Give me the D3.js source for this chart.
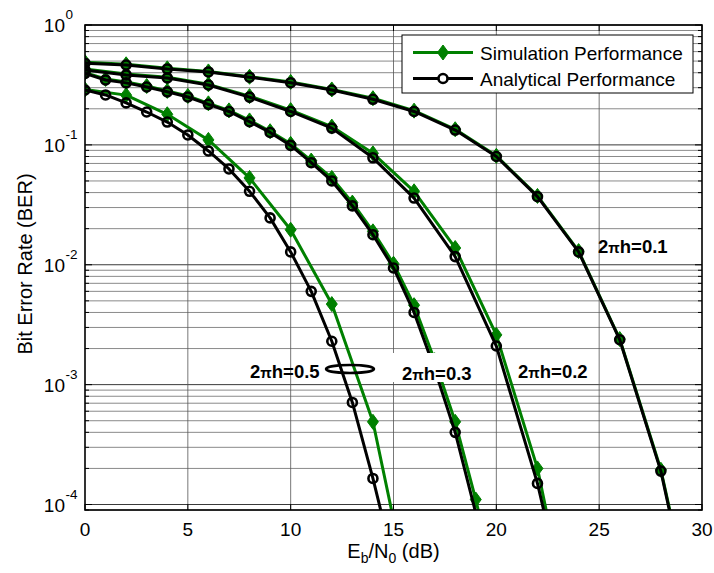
<!DOCTYPE html>
<html>
<head>
<meta charset="utf-8">
<script src="https://cdn.jsdelivr.net/npm/d3@7"></script>
<style>
  html, body { margin: 0; padding: 0; background: #fff; }
  svg { display: block; font-family: "Liberation Sans", Arial, sans-serif; }
</style>
</head>
<body>
<svg id="chart" width="714" height="573"></svg>
<script>
// Eb/N0 sample points (dB)
const ebn0Step1_0to15 = [0,1,2,3,4,5,6,7,8,9,10,11,12,13,14,15];
const ebn0Step1_0to19 = [0,1,2,3,4,5,6,7,8,9,10,11,12,13,14,15,16,17,18,19];
const ebn0Step1_0to20 = [0,1,2,3,4,5,6,7,8,9,10,11,12,13,14,15,16,17,18,19,20];
const ebn0Step2_0to16 = [0,2,4,6,8,10,12,14,16];
const ebn0Step2_0to24 = [0,2,4,6,8,10,12,14,16,18,20,22,24];
const ebn0Step2_0to30 = [0,2,4,6,8,10,12,14,16,18,20,22,24,26,28,30];

// BER, 2*pi*h = 0.1
const berAnalytical01 = [0.48, 0.464, 0.43, 0.406, 0.367, 0.33, 0.287, 0.24, 0.19, 0.133, 0.080, 0.037, 0.0128, 0.00237, 0.00019, 0.000005];
const berSimulation01 = [0.49, 0.47, 0.435, 0.41, 0.37, 0.335, 0.29, 0.245, 0.193, 0.135, 0.081, 0.0375, 0.013, 0.0024, 0.000195, 0.0000055];
// BER, 2*pi*h = 0.2
const berAnalytical02 = [0.422, 0.383, 0.362, 0.316, 0.25, 0.19, 0.138, 0.078, 0.036, 0.0117, 0.0021, 0.00015, 0.000005];
const berSimulation02 = [0.43, 0.39, 0.367, 0.32, 0.255, 0.195, 0.142, 0.085, 0.041, 0.0138, 0.0026, 0.0002, 0.0000045];
// BER, 2*pi*h = 0.3
const berAnalytical03 = [0.395, 0.348, 0.329, 0.304, 0.277, 0.251, 0.218, 0.19, 0.156, 0.127, 0.099, 0.071, 0.050, 0.031, 0.0178, 0.0094, 0.004, 0.00135, 0.0004, 0.000085];
const berSimulation03 = [0.40, 0.355, 0.335, 0.31, 0.282, 0.256, 0.222, 0.194, 0.16, 0.13, 0.102, 0.074, 0.053, 0.033, 0.019, 0.0102, 0.0046, 0.0016, 0.00049, 0.00011, 0.00002];
// BER, 2*pi*h = 0.5
const berAnalytical05 = [0.287, 0.261, 0.224, 0.188, 0.155, 0.121, 0.089, 0.063, 0.041, 0.0246, 0.0128, 0.006, 0.0023, 0.00071, 0.000165, 0.000033];
const berSimulation05 = [0.29, 0.26, 0.18, 0.11, 0.053, 0.0196, 0.0047, 0.00049, 0.0000115];

const xTicks = [0, 5, 10, 15, 20, 25, 30];
const yTickExponents = [0, -1, -2, -3, -4];
const legendLabels = ["Simulation Performance", "Analytical Performance"];
const curveLabels = ["2πh=0.1", "2πh=0.2", "2πh=0.3", "2πh=0.5"];

(function draw() {
  const GREEN = "#008000";
  const svg = d3.select("#chart");
  const pL = 85, pR = 702, pT = 25, pB = 510;
  const yMin = 0.9e-4;

  const x = d3.scaleLinear().domain([0, 30]).range([pL, pR]);
  const y = d3.scaleLog().domain([yMin, 1]).range([pB, pT]);

  // grid
  const minorVals = [];
  for (let e = -5; e < 0; e++) for (let m = 2; m <= 9; m++) {
    const v = m * Math.pow(10, e);
    if (v >= yMin && v < 1) minorVals.push(v);
  }
  const majorVals = yTickExponents.map(e => Math.pow(10, e));

  const grid = svg.append("g");
  grid.selectAll(null).data(minorVals).join("line")
    .attr("x1", pL).attr("x2", pR)
    .attr("y1", d => y(d)).attr("y2", d => y(d))
    .attr("stroke", "#8a8a8a").attr("stroke-width", 1);
  grid.selectAll(null).data(majorVals).join("line")
    .attr("x1", pL).attr("x2", pR)
    .attr("y1", d => y(d)).attr("y2", d => y(d))
    .attr("stroke", "#3a3a3a").attr("stroke-width", 1);
  grid.selectAll(null).data(xTicks.slice(1, -1)).join("line")
    .attr("x1", d => x(d)).attr("x2", d => x(d))
    .attr("y1", pT).attr("y2", pB)
    .attr("stroke", "#555").attr("stroke-width", 0.8);

  // curves
  svg.append("clipPath").attr("id", "plotClip")
    .append("rect").attr("x", pL).attr("y", pT).attr("width", pR - pL).attr("height", pB - pT);
  const plot = svg.append("g").attr("clip-path", "url(#plotClip)");

  const line = d3.line().x(d => x(d[0])).y(d => y(d[1]));
  const zip = (xs, ys) => ys.map((v, i) => [xs[i], v]);
  const inside = d => d[0] >= 0 && d[0] <= 30 && d[1] >= yMin && d[1] <= 1;

  const simSeries = [
    zip(ebn0Step2_0to30, berSimulation01),
    zip(ebn0Step2_0to24, berSimulation02),
    zip(ebn0Step1_0to20, berSimulation03),
    zip(ebn0Step2_0to16, berSimulation05)
  ];
  const anaSeries = [
    zip(ebn0Step2_0to30, berAnalytical01),
    zip(ebn0Step2_0to24, berAnalytical02),
    zip(ebn0Step1_0to19, berAnalytical03),
    zip(ebn0Step1_0to15, berAnalytical05)
  ];

  const diamond = (cx, cy) => `M${cx},${cy - 7.5}L${cx + 5.5},${cy}L${cx},${cy + 7.5}L${cx - 5.5},${cy}Z`;

  simSeries.forEach(s => {
    plot.append("path").attr("d", line(s)).attr("fill", "none")
      .attr("stroke", GREEN).attr("stroke-width", 3).attr("stroke-linejoin", "round");
  });
  simSeries.forEach(s => {
    plot.selectAll(null).data(s.filter(inside)).join("path")
      .attr("d", d => diamond(x(d[0]), y(d[1])))
      .attr("fill", GREEN).attr("stroke", GREEN).attr("stroke-width", 1);
  });
  anaSeries.forEach(s => {
    plot.append("path").attr("d", line(s)).attr("fill", "none")
      .attr("stroke", "#000").attr("stroke-width", 3).attr("stroke-linejoin", "round");
  });
  anaSeries.forEach(s => {
    plot.selectAll(null).data(s.filter(inside)).join("circle")
      .attr("cx", d => x(d[0])).attr("cy", d => y(d[1])).attr("r", 4.5)
      .attr("fill", "none").attr("stroke", "#000").attr("stroke-width", 2.6);
  });

  // curve annotations
  function curveLabel(txt, px, py, box) {
    const g = svg.append("g");
    if (box) g.append("rect").attr("x", box[0]).attr("y", box[1]).attr("width", box[2]).attr("height", box[3]).attr("fill", "#fff");
    const t = g.append("text").attr("x", px).attr("y", py)
      .attr("font-size", 18.5).attr("font-weight", "bold").attr("fill", "#000");
    const parts = txt.split("π");
    t.append("tspan").text(parts[0]);
    t.append("tspan").attr("font-size", 15).text("π");
    t.append("tspan").text(parts[1]);
  }
  curveLabel(curveLabels[0], 598, 253);
  curveLabel(curveLabels[1], 518, 378);
  curveLabel(curveLabels[2], 402, 380, [393, 353, 80, 29]);
  curveLabel(curveLabels[3], 250, 378);
  svg.append("ellipse").attr("cx", 350).attr("cy", 369).attr("rx", 24).attr("ry", 4)
    .attr("fill", "none").attr("stroke", "#000").attr("stroke-width", 2.5);

  // axes box and ticks
  const axes = svg.append("g");
  axes.append("rect").attr("x", pL).attr("y", pT).attr("width", pR - pL).attr("height", pB - pT)
    .attr("fill", "none").attr("stroke", "#000").attr("stroke-width", 1.6);
  const tickG = axes.append("g").attr("stroke", "#000").attr("stroke-width", 1);
  [pL, pR].forEach(ax => {
    const dir = ax === pL ? 1 : -1;
    tickG.selectAll(null).data(minorVals).join("line")
      .attr("x1", ax).attr("x2", ax + dir * 4).attr("y1", d => y(d)).attr("y2", d => y(d));
    tickG.selectAll(null).data(majorVals).join("line")
      .attr("x1", ax).attr("x2", ax + dir * 7).attr("y1", d => y(d)).attr("y2", d => y(d));
  });
  [pT, pB].forEach(ay => {
    const dir = ay === pB ? -1 : 1;
    tickG.selectAll(null).data(xTicks).join("line")
      .attr("x1", d => x(d)).attr("x2", d => x(d)).attr("y1", ay).attr("y2", ay + dir * 6);
  });

  // tick labels
  svg.append("g").selectAll("text").data(xTicks).join("text")
    .attr("x", d => x(d)).attr("y", 536).attr("text-anchor", "middle")
    .attr("font-size", 19).attr("fill", "#000").text(d => d);

  const yl = svg.append("g");
  yTickExponents.forEach(e => {
    const yy = y(Math.pow(10, e));
    yl.append("text").attr("x", 65).attr("y", yy + 7).attr("text-anchor", "end")
      .attr("font-size", 19).attr("fill", "#000").text("10");
    yl.append("text").attr("x", 65.5).attr("y", yy - 6).attr("text-anchor", "start")
      .attr("font-size", 13.5).attr("fill", "#000").text(e === 0 ? "0" : "-" + Math.abs(e));
  });

  // axis titles
  const xt = svg.append("text").attr("x", (pL + pR) / 2).attr("y", 558)
    .attr("text-anchor", "middle").attr("font-size", 20).attr("fill", "#000");
  xt.append("tspan").text("E");
  xt.append("tspan").attr("font-size", 14).attr("dy", 5).text("b");
  xt.append("tspan").attr("dy", -5).text("/N");
  xt.append("tspan").attr("font-size", 14).attr("dy", 5).text("0");
  xt.append("tspan").attr("dy", -5).text(" (dB)");

  svg.append("text").attr("transform", `translate(32,264) rotate(-90)`)
    .attr("text-anchor", "middle").attr("font-size", 20).attr("fill", "#000")
    .text("Bit Error Rate (BER)");

  // legend
  const lg = svg.append("g");
  lg.append("rect").attr("x", 402).attr("y", 35).attr("width", 291).attr("height", 58)
    .attr("fill", "#fff").attr("stroke", "#000").attr("stroke-width", 1);
  const rows = [
    { label: legendLabels[0], color: GREEN, cy: 52.5, mark: "diamond" },
    { label: legendLabels[1], color: "#000", cy: 78.5, mark: "circle" }
  ];
  rows.forEach(r => {
    lg.append("line").attr("x1", 413).attr("x2", 473).attr("y1", r.cy).attr("y2", r.cy)
      .attr("stroke", r.color).attr("stroke-width", 3);
    if (r.mark === "diamond") {
      lg.append("path").attr("d", diamond(443, r.cy)).attr("fill", GREEN).attr("stroke", GREEN);
    } else {
      lg.append("circle").attr("cx", 443).attr("cy", r.cy).attr("r", 4.5)
        .attr("fill", "#fff").attr("stroke", "#000").attr("stroke-width", 2.6);
    }
    lg.append("text").attr("x", 480).attr("y", r.cy + 7).attr("font-size", 19).attr("fill", "#000").text(r.label);
  });
})();
</script>
</body>
</html>
